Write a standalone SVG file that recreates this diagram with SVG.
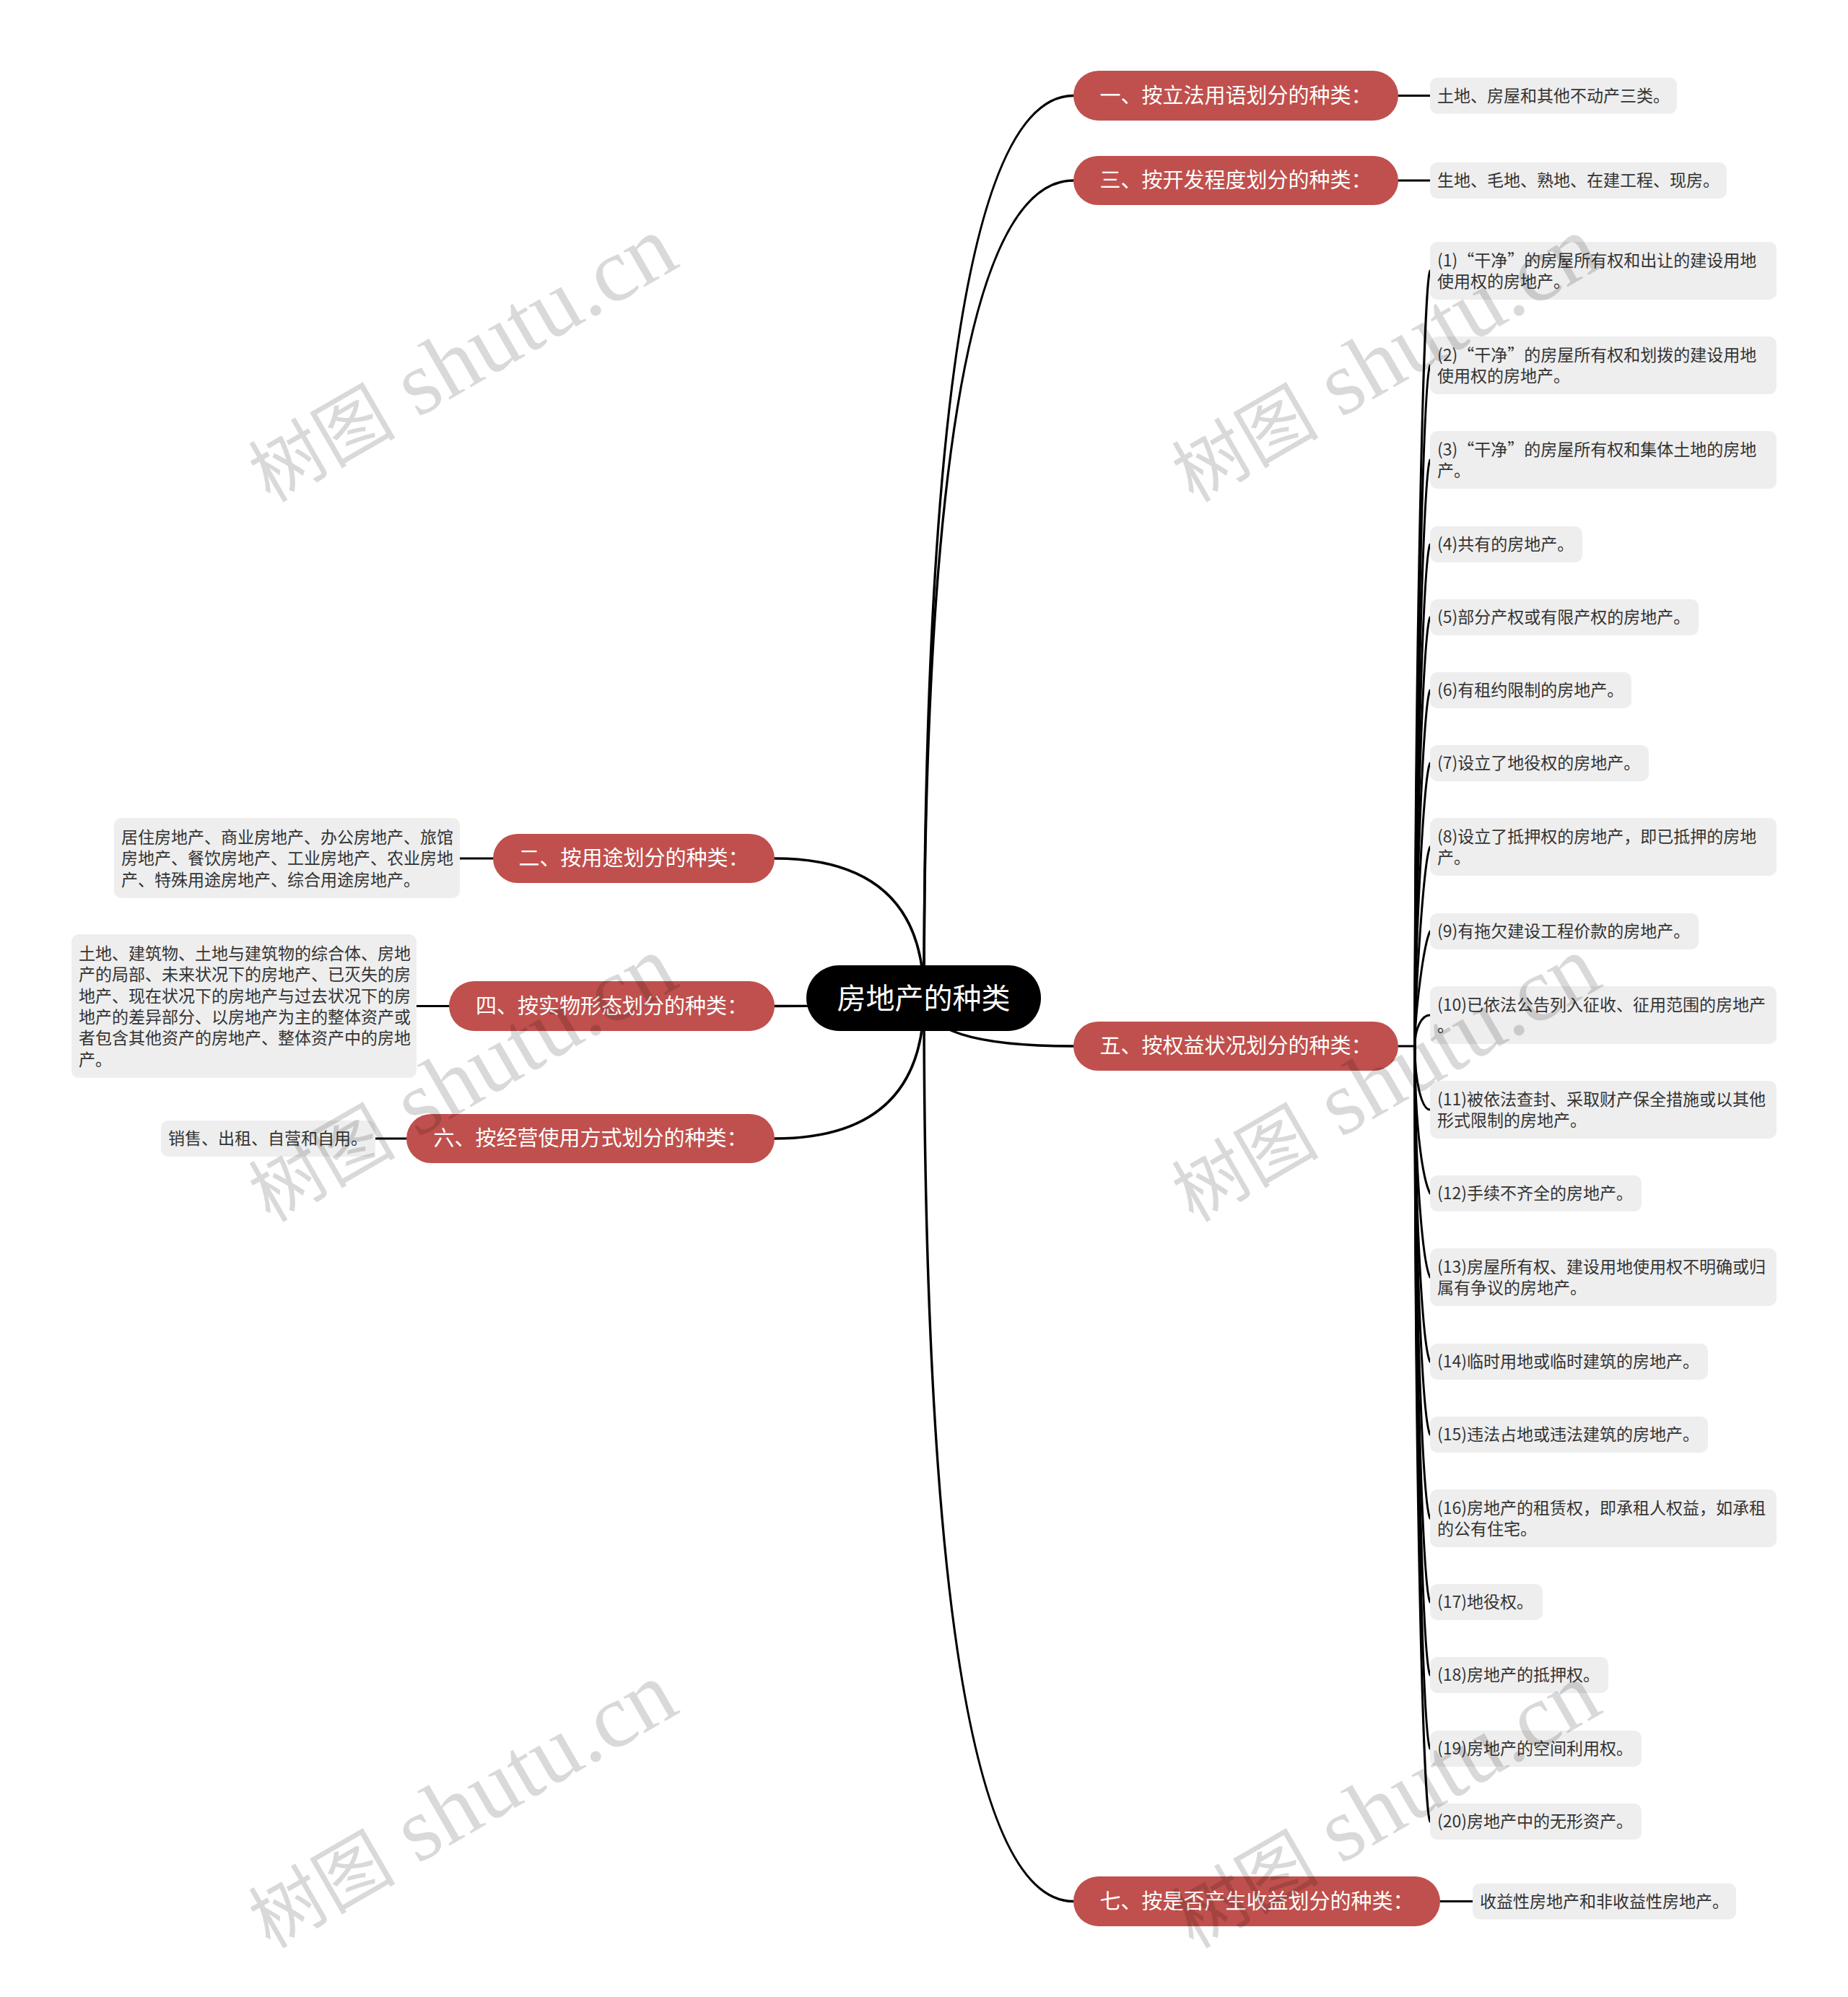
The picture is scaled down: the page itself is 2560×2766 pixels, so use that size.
<svg xmlns="http://www.w3.org/2000/svg" width="2560" height="2766" viewBox="0 0 2560 2766">
<style>
text{font-family:"Noto Sans CJK SC","Noto Sans",sans-serif;}
.conn path{fill:none;stroke:#000;stroke-linecap:round;}
.main{stroke-width:3.5;}
.sub{stroke-width:3;}
.red rect{fill:#c0504d;}
.red text{fill:#fff;font-size:29px;text-anchor:middle;}
.leaf rect{fill:#eeeeee;}
.leaf text{fill:#333;font-size:23px;}
.root rect{fill:#000;}
.root text{fill:#fff;font-size:40px;text-anchor:middle;}
.wm text{font-family:"Liberation Serif","Noto Sans CJK SC",serif;font-size:126px;fill:#000;fill-opacity:0.15;}
.wm tspan{font-size:102px;}
</style>
<rect width="2560" height="2766" fill="#fff"/>
<g id="connectors" class="conn">
<path class="main" d="M1280 1383 Q1280 132.5 1487 132.5"/>
<path class="main" d="M1280 1383 Q1280 250 1487 250"/>
<path class="main" d="M1280 1383 Q1280 1449 1487 1449"/>
<path class="main" d="M1280 1383 Q1280 2633.5 1487 2633.5"/>
<path class="main" d="M1280 1383 Q1280 1189 1073 1189"/>
<path class="main" d="M1280 1383 Q1280 1393.5 1073 1393.5"/>
<path class="main" d="M1280 1383 Q1280 1577 1073 1577"/>
<path class="sub" d="M1937 132.5 H1981"/>
<path class="sub" d="M1937 250 H1981"/>
<path class="sub" d="M1995 2633.5 H2040"/>
<path class="sub" d="M683 1189 H637"/>
<path class="sub" d="M622 1393.5 H577"/>
<path class="sub" d="M563 1577 H520"/>
<path class="sub" d="M1937 1449 H1960"/>
<path class="sub" d="M1960 1449 C1960 905 1972 393 1981 375"/>
<path class="sub" d="M1960 1449 C1960 983 1972 524 1981 506"/>
<path class="sub" d="M1960 1449 C1960 1062 1972 655 1981 637"/>
<path class="sub" d="M1960 1449 C1960 1132 1972 772 1981 754"/>
<path class="sub" d="M1960 1449 C1960 1192 1972 873 1981 855"/>
<path class="sub" d="M1960 1449 C1960 1253 1972 974 1981 956"/>
<path class="sub" d="M1960 1449 C1960 1313 1972 1075 1981 1057"/>
<path class="sub" d="M1960 1449 C1960 1383 1972 1191 1981 1173"/>
<path class="sub" d="M1960 1449 C1960 1403 1972 1308 1981 1290"/>
<path class="sub" d="M1960 1449 C1960 1423 1970 1406 1981 1406"/>
<path class="sub" d="M1960 1449 C1960 1501 1970 1537 1981 1537"/>
<path class="sub" d="M1960 1449 C1960 1571 1972 1635 1981 1653"/>
<path class="sub" d="M1960 1449 C1960 1641 1972 1751 1981 1769"/>
<path class="sub" d="M1960 1449 C1960 1711 1972 1868 1981 1886"/>
<path class="sub" d="M1960 1449 C1960 1771 1972 1969 1981 1987"/>
<path class="sub" d="M1960 1449 C1960 1841 1972 2085 1981 2103"/>
<path class="sub" d="M1960 1449 C1960 1911 1972 2201 1981 2219"/>
<path class="sub" d="M1960 1449 C1960 1972 1972 2302 1981 2320"/>
<path class="sub" d="M1960 1449 C1960 2033 1972 2404 1981 2422"/>
<path class="sub" d="M1960 1449 C1960 2093 1972 2505 1981 2523"/>
</g>
<g id="root" class="root">
<rect x="1117" y="1337" width="325" height="91" rx="45.5"/>
<text x="1279.5" y="1397">房地产的种类</text>
</g>
<g id="b1" class="red"><rect x="1487" y="98" width="450" height="69" rx="34.5"/><text x="1712" y="142.5">一、按立法用语划分的种类：</text></g>
<g id="b3" class="red"><rect x="1487" y="216" width="450" height="68" rx="34"/><text x="1712" y="260">三、按开发程度划分的种类：</text></g>
<g id="b5" class="red"><rect x="1487" y="1415" width="450" height="68" rx="34"/><text x="1712" y="1459">五、按权益状况划分的种类：</text></g>
<g id="b7" class="red"><rect x="1487" y="2599" width="508" height="69" rx="34.5"/><text x="1741" y="2643.5">七、按是否产生收益划分的种类：</text></g>
<g id="b2" class="red"><rect x="683" y="1155" width="390" height="68" rx="34"/><text x="878" y="1199">二、按用途划分的种类：</text></g>
<g id="b4" class="red"><rect x="622" y="1359" width="451" height="69" rx="34.5"/><text x="847.5" y="1403.5">四、按实物形态划分的种类：</text></g>
<g id="b6" class="red"><rect x="563" y="1543" width="510" height="68" rx="34"/><text x="818" y="1587">六、按经营使用方式划分的种类：</text></g>
<g id="l1" class="leaf"><rect x="1981" y="107.5" width="342" height="50" rx="10"/><text x="1991" y="140.5">土地、房屋和其他不动产三类。</text></g>
<g id="l3" class="leaf"><rect x="1981" y="225" width="411" height="50" rx="10"/><text x="1991" y="258">生地、毛地、熟地、在建工程、现房。</text></g>
<g id="l7" class="leaf"><rect x="2040" y="2608.5" width="365" height="50" rx="10"/><text x="2050" y="2641.5">收益性房地产和非收益性房地产。</text></g>
<g id="l2" class="leaf"><rect x="158" y="1133" width="479" height="111" rx="10"/><text x="168" y="1168">居住房地产、商业房地产、办公房地产、旅馆</text><text x="168" y="1197.3">房地产、餐饮房地产、工业房地产、农业房地</text><text x="168" y="1226.6">产、特殊用途房地产、综合用途房地产。</text></g>
<g id="l4" class="leaf"><rect x="99" y="1294" width="478" height="199" rx="10"/><text x="109" y="1329">土地、建筑物、土地与建筑物的综合体、房地</text><text x="109" y="1358.3">产的局部、未来状况下的房地产、已灭失的房</text><text x="109" y="1387.6">地产、现在状况下的房地产与过去状况下的房</text><text x="109" y="1416.9">地产的差异部分、以房地产为主的整体资产或</text><text x="109" y="1446.2">者包含其他资产的房地产、整体资产中的房地</text><text x="109" y="1475.5">产。</text></g>
<g id="l6" class="leaf"><rect x="223" y="1552" width="297" height="50" rx="10"/><text x="233" y="1585">销售、出租、自营和自用。</text></g>
<g id="c1" class="leaf"><rect x="1981" y="335" width="480" height="80" rx="10"/><text x="1991" y="368.5">(1)“干净”的房屋所有权和出让的建设用地</text><text x="1991" y="397.8">使用权的房地产。</text></g>
<g id="c2" class="leaf"><rect x="1981" y="466" width="480" height="80" rx="10"/><text x="1991" y="499.5">(2)“干净”的房屋所有权和划拨的建设用地</text><text x="1991" y="528.8">使用权的房地产。</text></g>
<g id="c3" class="leaf"><rect x="1981" y="597" width="480" height="80" rx="10"/><text x="1991" y="630.5">(3)“干净”的房屋所有权和集体土地的房地</text><text x="1991" y="659.8">产。</text></g>
<g id="c4" class="leaf"><rect x="1981" y="729" width="211" height="50" rx="10"/><text x="1991" y="762">(4)共有的房地产。</text></g>
<g id="c5" class="leaf"><rect x="1981" y="830" width="372" height="50" rx="10"/><text x="1991" y="863">(5)部分产权或有限产权的房地产。</text></g>
<g id="c6" class="leaf"><rect x="1981" y="931" width="279" height="50" rx="10"/><text x="1991" y="964">(6)有租约限制的房地产。</text></g>
<g id="c7" class="leaf"><rect x="1981" y="1032" width="303" height="50" rx="10"/><text x="1991" y="1065">(7)设立了地役权的房地产。</text></g>
<g id="c8" class="leaf"><rect x="1981" y="1133" width="480" height="80" rx="10"/><text x="1991" y="1166.5">(8)设立了抵押权的房地产，即已抵押的房地</text><text x="1991" y="1195.8">产。</text></g>
<g id="c9" class="leaf"><rect x="1981" y="1265" width="372" height="50" rx="10"/><text x="1991" y="1298">(9)有拖欠建设工程价款的房地产。</text></g>
<g id="c10" class="leaf"><rect x="1981" y="1366" width="480" height="80" rx="10"/><text x="1991" y="1399.5">(10)已依法公告列入征收、征用范围的房地产</text><text x="1991" y="1428.8">。</text></g>
<g id="c11" class="leaf"><rect x="1981" y="1497" width="480" height="80" rx="10"/><text x="1991" y="1530.5">(11)被依法查封、采取财产保全措施或以其他</text><text x="1991" y="1559.8">形式限制的房地产。</text></g>
<g id="c12" class="leaf"><rect x="1981" y="1628" width="293" height="50" rx="10"/><text x="1991" y="1661">(12)手续不齐全的房地产。</text></g>
<g id="c13" class="leaf"><rect x="1981" y="1729" width="480" height="80" rx="10"/><text x="1991" y="1762.5">(13)房屋所有权、建设用地使用权不明确或归</text><text x="1991" y="1791.8">属有争议的房地产。</text></g>
<g id="c14" class="leaf"><rect x="1981" y="1861" width="385" height="50" rx="10"/><text x="1991" y="1894">(14)临时用地或临时建筑的房地产。</text></g>
<g id="c15" class="leaf"><rect x="1981" y="1962" width="385" height="50" rx="10"/><text x="1991" y="1995">(15)违法占地或违法建筑的房地产。</text></g>
<g id="c16" class="leaf"><rect x="1981" y="2063" width="480" height="80" rx="10"/><text x="1991" y="2096.5">(16)房地产的租赁权，即承租人权益，如承租</text><text x="1991" y="2125.8">的公有住宅。</text></g>
<g id="c17" class="leaf"><rect x="1981" y="2194" width="156" height="50" rx="10"/><text x="1991" y="2227">(17)地役权。</text></g>
<g id="c18" class="leaf"><rect x="1981" y="2295" width="247" height="50" rx="10"/><text x="1991" y="2328">(18)房地产的抵押权。</text></g>
<g id="c19" class="leaf"><rect x="1981" y="2397" width="293" height="50" rx="10"/><text x="1991" y="2430">(19)房地产的空间利用权。</text></g>
<g id="c20" class="leaf"><rect x="1981" y="2498" width="293" height="50" rx="10"/><text x="1991" y="2531">(20)房地产中的无形资产。</text></g>
<g id="watermarks" class="wm">
<text x="374" y="697" transform="rotate(-30 374 697)"><tspan>树图</tspan> shutu.cn</text>
<text x="1653" y="697" transform="rotate(-30 1653 697)"><tspan>树图</tspan> shutu.cn</text>
<text x="374" y="1694" transform="rotate(-30 374 1694)"><tspan>树图</tspan> shutu.cn</text>
<text x="1653" y="1694" transform="rotate(-30 1653 1694)"><tspan>树图</tspan> shutu.cn</text>
<text x="374" y="2700" transform="rotate(-30 374 2700)"><tspan>树图</tspan> shutu.cn</text>
<text x="1653" y="2700" transform="rotate(-30 1653 2700)"><tspan>树图</tspan> shutu.cn</text>
</g>
</svg>
